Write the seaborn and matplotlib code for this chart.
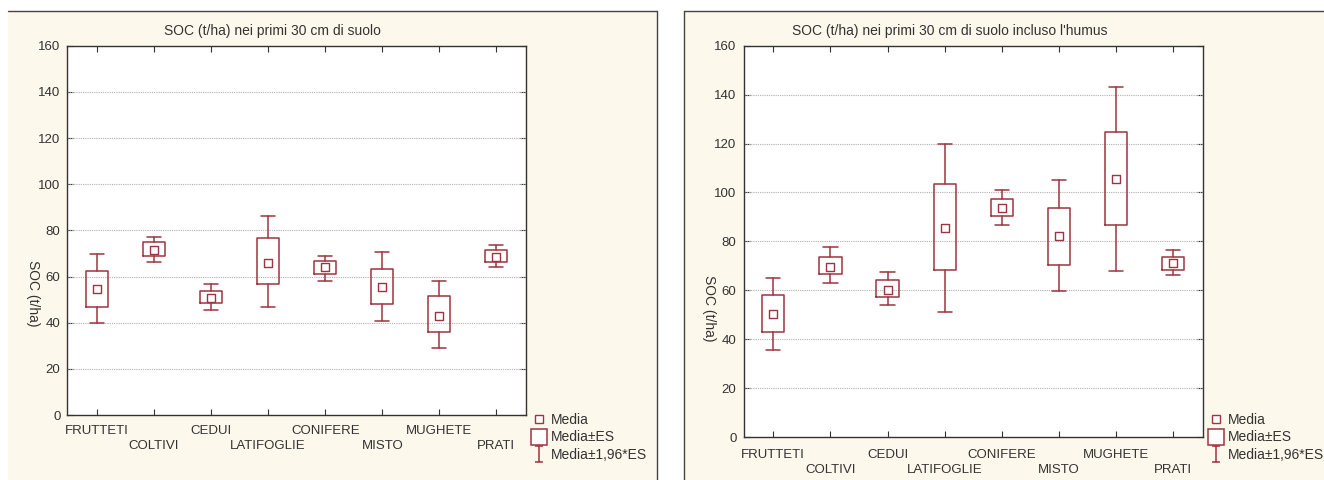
import numpy as np
import matplotlib
matplotlib.use("Agg")
import matplotlib.pyplot as plt
import seaborn as sns
from matplotlib.patches import Rectangle
from matplotlib.lines import Line2D
from matplotlib.path import Path

# -----------------------------
# DATA
# -----------------------------
categories = ["FRUTTETI", "COLTIVI", "CEDUI", "LATIFOGLIE",
              "CONIFERE", "MISTO", "MUGHETE", "PRATI"]

# panel 1: SOC nei primi 30 cm di suolo
soc_mean = [54.4, 71.3, 50.5, 65.8, 64.0, 55.3, 43.0, 68.4]
soc_es_lo = [46.9, 69.0, 48.5, 56.6, 61.1, 48.1, 36.0, 66.3]
soc_es_hi = [62.2, 74.8, 53.7, 76.5, 66.9, 63.4, 51.4, 71.3]
soc_ci_lo = [40.0, 66.1, 45.6, 46.9, 58.2, 40.6, 29.2, 64.0]
soc_ci_hi = [69.7, 77.1, 56.6, 86.2, 69.0, 70.8, 58.2, 73.6]

# panel 2: SOC incluso l'humus
hum_mean = [50.1, 69.7, 60.3, 85.5, 93.5, 82.0, 105.4, 71.1]
hum_es_lo = [43.0, 66.7, 57.1, 68.4, 90.4, 70.5, 86.7, 68.4]
hum_es_hi = [58.0, 73.7, 64.0, 103.4, 97.4, 93.7, 124.9, 73.7]
hum_ci_lo = [35.5, 63.0, 53.8, 51.2, 86.7, 59.8, 67.8, 66.2]
hum_ci_hi = [65.2, 77.5, 67.3, 120.0, 101.2, 105.0, 143.2, 76.4]

titles = ["SOC (t/ha) nei primi 30 cm di suolo",
          "SOC (t/ha) nei primi 30 cm di suolo incluso l'humus"]
y_ticks = [0, 20, 40, 60, 80, 100, 120, 140, 160]
legend_labels = ["Media", "Media±ES", "Media±1,96*ES"]

# -----------------------------
# STYLE
# -----------------------------
RED = "#9e3440"
CREAM = "#fdf8ec"
TXT = "#333333"

sns.set_theme(style="white")
plt.rcParams["font.family"] = ["Liberation Sans", "DejaVu Sans"]
plt.rcParams["text.color"] = TXT
plt.rcParams["xtick.color"] = TXT
plt.rcParams["ytick.color"] = TXT

W, H = 1324, 480
fig = plt.figure(figsize=(W / 100, H / 100), dpi=100, facecolor="white")

# cream panel backgrounds with border (top + outer side)
for x0, x1, side in [(8, 657, "right"), (684, W + 2, "left")]:
    fig.patches.append(Rectangle((x0 / W, 0), (x1 - x0) / W, (H - 11) / H,
                                 transform=fig.transFigure, facecolor=CREAM,
                                 edgecolor="none", zorder=-5))
    fig.add_artist(Line2D([x0 / W, x1 / W], [(H - 11) / H] * 2,
                          transform=fig.transFigure, color="#444444", lw=1.0))
    xs = x1 if side == "right" else x0
    fig.add_artist(Line2D([xs / W] * 2, [0, (H - 11) / H],
                          transform=fig.transFigure, color="#444444", lw=1.0))

# axes positions in pixels: left, right, top, bottom, and x label pads
boxes_px = [(67.4, 526, 45.7, 415, (7, 18)),
            (743.5, 1203, 45.7, 437, (8.5, 19.5))]

datasets = [
    (soc_mean, soc_es_lo, soc_es_hi, soc_ci_lo, soc_ci_hi),
    (hum_mean, hum_es_lo, hum_es_hi, hum_ci_lo, hum_ci_hi),
]

# I-beam marker for the legend
ibeam = Path([(-0.5, -1), (0.5, -1), (0, -1), (0, 1), (-0.5, 1), (0.5, 1)],
             [Path.MOVETO, Path.LINETO, Path.MOVETO, Path.LINETO,
              Path.MOVETO, Path.LINETO])

for k, (l, r, t, b, pads) in enumerate(boxes_px):
    ax = fig.add_axes([l / W, (H - b) / H, (r - l) / W, (b - t) / H])
    ax.set_facecolor("white")
    mean, es_lo, es_hi, ci_lo, ci_hi = datasets[k]
    pos = np.arange(len(categories))

    stats = []
    for i in range(len(categories)):
        stats.append(dict(med=mean[i], q1=es_lo[i], q3=es_hi[i],
                          whislo=ci_lo[i], whishi=ci_hi[i], fliers=[]))
    lp = dict(color=RED, linewidth=1.1)
    ax.bxp(stats, positions=pos, widths=0.39, capwidths=0.25,
           showfliers=False, boxprops=lp, whiskerprops=lp, capprops=lp,
           medianprops=dict(linewidth=0), manage_ticks=False, zorder=3)

    sns.scatterplot(x=pos, y=mean, marker="s", s=34, color="white",
                    edgecolor=RED, linewidth=1.0, ax=ax, zorder=4)

    ax.set_xlim(-0.52, len(categories) - 0.48)
    ax.set_ylim(0, 160)
    ax.set_yticks(y_ticks)
    ax.set_yticklabels([str(v) for v in y_ticks], fontsize=9.5)
    ax.set_xticks(pos)
    ax.set_xticklabels(categories, fontsize=9.5)
    ax.tick_params(axis="both", direction="in", length=4, width=0.8,
                   top=True, right=True, bottom=True, left=True,
                   color="#333333")
    ax.tick_params(axis="y", pad=5)
    # alternate the category labels on two rows
    for i, tk in enumerate(ax.xaxis.get_major_ticks()):
        tk.set_pad(pads[0] if i % 2 == 0 else pads[1])
    for sp in ax.spines.values():
        sp.set_color("#333333")
        sp.set_linewidth(1.0)

    for v in y_ticks[1:-1]:
        ax.axhline(v, color="#b0b0b0", linestyle=(0, (1, 1)),
                   linewidth=0.8, zorder=1)

    ax.set_title(titles[k], fontsize=10, x=0.448, pad=8, color=TXT)
    ax.set_ylabel("SOC (t/ha)", fontsize=10, rotation=-90, color=TXT,
                  va="center", ha="center")
    ax.yaxis.set_label_coords(-0.075, 0.33)

    handles = [
        Line2D([], [], linestyle="none", marker="s", markersize=6,
               markerfacecolor="white", markeredgecolor=RED,
               markeredgewidth=1.0),
        Line2D([], [], linestyle="none", marker="s", markersize=11,
               markerfacecolor="white", markeredgecolor=RED,
               markeredgewidth=1.1),
        Line2D([], [], linestyle="none", marker=ibeam, markersize=12,
               markerfacecolor="none", markeredgecolor=RED,
               markeredgewidth=1.1),
    ]
    leg_x = (r + 6) / W
    ax.legend(handles, legend_labels, loc="upper left",
              bbox_to_anchor=(leg_x, (H - 413) / H),
              bbox_transform=fig.transFigure, frameon=False, fontsize=10,
              handlelength=1.0, handletextpad=0.35, labelspacing=0.25,
              borderpad=0, borderaxespad=0)

fig.savefig("out.png", dpi=100, facecolor="white")
